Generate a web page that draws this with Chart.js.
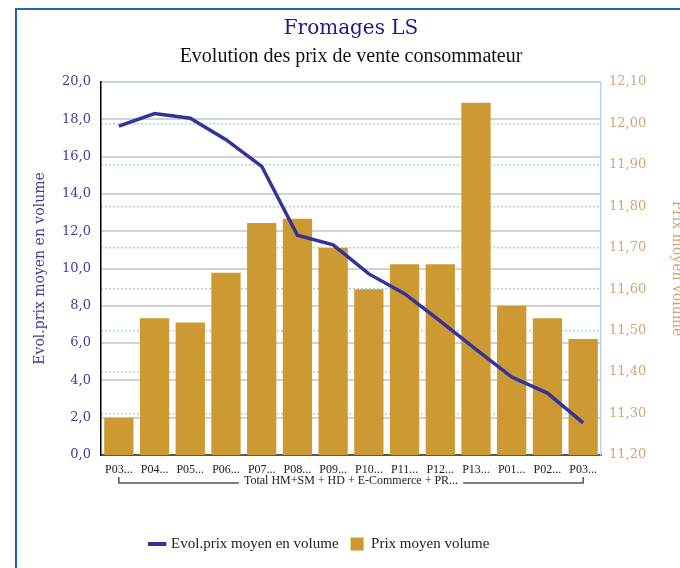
<!DOCTYPE html>
<html>
<head>
<meta charset="utf-8">
<script src="https://cdn.jsdelivr.net/npm/chart.js@4"></script>
<style>
  html, body { margin: 0; padding: 0; background: #fff; overflow: hidden; }
  #page { position: relative; width: 680px; height: 568px; overflow: hidden; }
  #frame { position: absolute; left: 15px; top: 8px; width: 800px; height: 700px;
           border-left: 2px solid #2566b0; border-top: 2px solid #2566b0; }
  #wrap { position: absolute; left: -45px; top: 0; width: 730px; height: 568px; }
</style>
</head>
<body>
<div id="page">
  <div id="frame"></div>
  <div id="wrap"><canvas id="c" width="730" height="568"></canvas></div>
</div>
<script>
// Data
const labels = ['P03...', 'P04...', 'P05...', 'P06...', 'P07...', 'P08...', 'P09...',
                'P10...', 'P11...', 'P12...', 'P13...', 'P01...', 'P02...', 'P03...'];
const groupLabel = 'Total HM+SM + HD + E-Commerce + PR...';
const evolPrix = [17.63, 18.31, 18.06, 16.91, 15.48, 11.78, 11.27, 9.71, 8.65, 7.18, 5.67, 4.18, 3.32, 1.72];
const prixMoyen = [11.29, 11.53, 11.52, 11.64, 11.76, 11.77, 11.70, 11.60, 11.66, 11.66, 12.05, 11.56, 11.53, 11.48];

const blue = '#333399';
const gold = '#cc9933';
const leftColor = '#40409a';
const rightColor = '#d4a373';

// bracket + group name under the category labels
const groupBracket = {
    id: 'groupBracket',
    afterDraw(chart) {
        const x = chart.scales.x;
        const ctx = chart.ctx;
        const x0 = x.getPixelForValue(0);
        const x1 = x.getPixelForValue(labels.length - 1);
        const y = x.top + 28;
        ctx.save();
        ctx.font = '12px "Liberation Serif"';
        const tw = ctx.measureText(groupLabel).width;
        const mid = (x0 + x1) / 2;
        ctx.strokeStyle = '#555';
        ctx.lineWidth = 1.5;
        ctx.beginPath();
        ctx.moveTo(x0, y - 6);
        ctx.lineTo(x0, y);
        ctx.lineTo(mid - tw / 2 - 5, y);
        ctx.moveTo(mid + tw / 2 + 5, y);
        ctx.lineTo(x1, y);
        ctx.lineTo(x1, y - 6);
        ctx.stroke();
        ctx.fillStyle = '#222';
        ctx.textAlign = 'center';
        ctx.textBaseline = 'middle';
        ctx.fillText(groupLabel, mid, y - 2);
        ctx.restore();
    },
};

new Chart(document.getElementById('c'), {
    type: 'bar',
    data: {
        labels: labels,
        datasets: [
            {
                type: 'line',
                label: 'Evol.prix moyen en volume',
                data: evolPrix,
                yAxisID: 'y',
                borderColor: blue,
                backgroundColor: blue,
                borderWidth: 3.5,
                pointRadius: 0,
                pointHoverRadius: 0,
                pointBorderWidth: 4,
                pointStyle: 'line',
                tension: 0,
                order: 0,
            },
            {
                type: 'bar',
                label: 'Prix moyen volume',
                data: prixMoyen,
                yAxisID: 'y1',
                backgroundColor: gold,
                borderWidth: 0,
                barPercentage: 0.82,
                categoryPercentage: 1.0,
                pointStyle: 'rect',
                order: 1,
            },
        ],
    },
    options: {
        responsive: false,
        animation: false,
        layout: { padding: { top: 0, bottom: 6.5, left: 0, right: 0 } },
        plugins: {
            title: {
                display: true,
                text: 'Fromages LS',
                color: '#1c1c8a',
                fullSize: false,
                font: { family: '"DejaVu Serif"', size: 20, weight: 'normal' },
                padding: { top: 17, bottom: 0 },
            },
            subtitle: {
                display: true,
                text: 'Evolution des prix de vente consommateur',
                color: '#111',
                fullSize: false,
                font: { family: '"Liberation Serif"', size: 20 },
                padding: { top: 4, bottom: 13 },
            },
            legend: {
                position: 'bottom',
                labels: {
                    usePointStyle: true,
                    boxWidth: 13,
                    boxHeight: 13,
                    padding: 12,
                    color: '#222',
                    font: { family: '"Liberation Serif"', size: 15 },
                },
            },
            tooltip: { enabled: false },
        },
        scales: {
            x: {
                afterFit: (s) => { s.height = 69.5; },
                grid: { display: false, drawTicks: false },
                border: { color: '#555', width: 2 },
                ticks: {
                    autoSkip: false,
                    maxRotation: 0,
                    padding: 8,
                    color: '#222',
                    font: { family: '"Liberation Serif"', size: 12 },
                },
            },
            y: {
                position: 'left',
                min: 0,
                max: 20,
                afterFit: (s) => { s.width = 146; },
                grid: { color: '#d2d2d2', lineWidth: 2, drawTicks: false },
                border: { color: '#000', width: 1.5 },
                ticks: {
                    stepSize: 2,
                    padding: 10,
                    color: leftColor,
                    font: { family: '"DejaVu Serif"', size: 13 },
                    callback: (v) => v.toFixed(1).replace('.', ','),
                },
                title: {
                    display: true,
                    text: 'Evol.prix moyen en volume',
                    color: leftColor,
                    font: { family: '"DejaVu Serif"', size: 14 },
                    padding: { top: 76.6, bottom: 0 },
                },
            },
            y1: {
                position: 'right',
                min: 11.2,
                max: 12.1,
                afterFit: (s) => { s.width = 84; },
                grid: { color: '#a9d1f5', lineWidth: 1.5, drawTicks: false },
                border: { color: '#b5d6f3', width: 1.5, dash: [2, 2] },
                ticks: {
                    stepSize: 0.1,
                    padding: 8,
                    color: rightColor,
                    font: { family: '"DejaVu Serif"', size: 13 },
                    callback: (v) => v.toFixed(2).replace('.', ','),
                },
                title: {
                    display: true,
                    text: 'Prix moyen volume',
                    color: rightColor,
                    font: { family: '"DejaVu Serif"', size: 14 },
                    padding: { top: 0, bottom: 0 },
                },
            },
        },
    },
    plugins: [groupBracket],
});
</script>
</body>
</html>
